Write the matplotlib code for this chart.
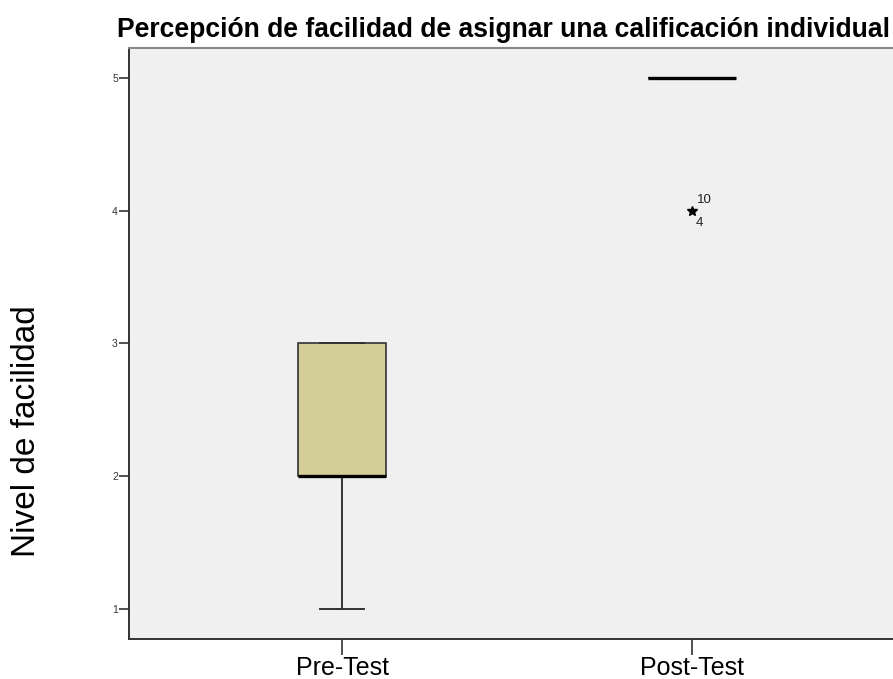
import matplotlib
matplotlib.use("Agg")
import matplotlib.pyplot as plt

plt.rcParams["font.family"] = ["Liberation Sans", "DejaVu Sans"]

# --- data -----------------------------------------------------------------
groups    = ["Pre-Test", "Post-Test"]
whis_low  = [1, 5]
q1        = [2, 5]
medians   = [2, 5]
q3        = [3, 5]
whis_high = [3, 5]
outliers  = [[], [4]]
outlier_ids = [[], ["10", "4"]]
y_ticks   = [1, 2, 3, 4, 5]

TITLE  = "Percepción de facilidad de asignar una calificación individual"
YLABEL = "Nivel de facilidad"
# --------------------------------------------------------------------------

W, H = 893, 679
fig = plt.figure(figsize=(W / 100, H / 100), dpi=100, facecolor="white")
ax = fig.add_axes([129 / W, 1 - 639 / H, (W - 129) / W, (639 - 48) / H])
ax.set_facecolor("#F0F0F0")

stats = []
for i, g in enumerate(groups):
    stats.append(dict(label=g, whislo=whis_low[i], q1=q1[i], med=medians[i],
                      q3=q3[i], whishi=whis_high[i], fliers=[]))

positions = list(range(len(groups)))
ax.bxp(stats, positions=positions, widths=0.251, patch_artist=True,
       showfliers=False,
       boxprops=dict(facecolor="#D3CE97", edgecolor="#333333", linewidth=1.2),
       medianprops=dict(color="black", linewidth=2.4),
       whiskerprops=dict(color="#333333", linewidth=1.4),
       capprops=dict(color="#333333", linewidth=1.4))

# extreme values drawn as stars with case numbers
for i, vals in enumerate(outliers):
    for v in vals:
        ax.plot(positions[i], v, marker="*", color="black", markersize=7,
                linestyle="none", zorder=5)
        ids = outlier_ids[i]
        ax.annotate(ids[0], (positions[i], v), xytext=(3.5, 8),
                    textcoords="offset points", fontsize=9.5, ha="left",
                    va="center", color="#222222")
        ax.annotate(ids[1], (positions[i], v), xytext=(3, -9),
                    textcoords="offset points", fontsize=9.5, ha="left",
                    va="center", color="#222222")

ax.set_xlim(-213 / 350, (W - 342) / 350)
ax.set_ylim(1 - 30 / 132.75, 5 + 30 / 132.75)

ax.set_yticks(y_ticks)
ax.set_yticklabels([str(t) for t in y_ticks])
ax.set_xticks(positions)
ax.set_xticklabels(groups)
ax.tick_params(axis="y", length=7, width=1.2, color="#333333",
               labelsize=7.5, labelcolor="#333333", pad=1)
ax.tick_params(axis="x", length=11.5, width=1.2, color="#333333",
               labelsize=18, labelcolor="black", pad=1)

ax.spines["right"].set_visible(False)
ax.spines["top"].set_color("#888888")
ax.spines["top"].set_linewidth(1.5)
for s in ("left", "bottom"):
    ax.spines[s].set_color("#333333")
    ax.spines[s].set_linewidth(1.4)

fig.text(117 / W, 1 - 37 / H, TITLE, fontsize=19.1, fontweight="bold",
         ha="left", va="baseline")
fig.text(27 / W, 1 - 431 / H, YLABEL, fontsize=24, rotation=90,
         ha="center", va="center")

fig.savefig("out.png", dpi=100, facecolor="white")
